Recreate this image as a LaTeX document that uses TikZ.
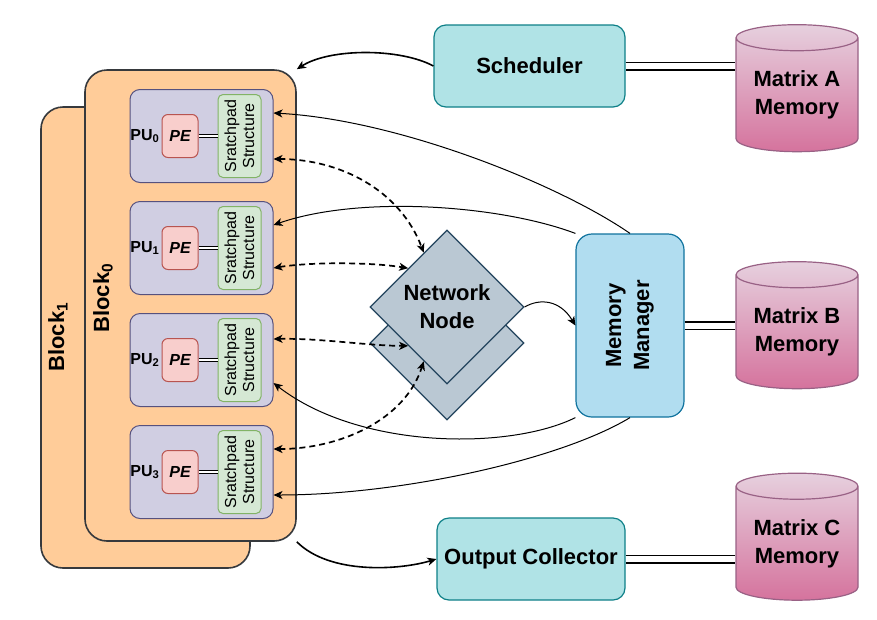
\documentclass[tikz,border=0pt]{standalone}
\usepackage{fontspec}
\setmainfont{Liberation Sans}
\usetikzlibrary{shapes.geometric,arrows.meta,calc}
\definecolor{blockfill}{HTML}{FFCC99}
\definecolor{blockdraw}{HTML}{36393D}
\definecolor{pufill}{HTML}{D0CEE2}
\definecolor{pudraw}{HTML}{56517E}
\definecolor{pefill}{HTML}{F8CECC}
\definecolor{pedraw}{HTML}{B85450}
\definecolor{spfill}{HTML}{D5E8D4}
\definecolor{spdraw}{HTML}{82B366}
\definecolor{schfill}{HTML}{B0E3E6}
\definecolor{schdraw}{HTML}{0E8088}
\definecolor{mmfill}{HTML}{B1DDF0}
\definecolor{mmdraw}{HTML}{10739E}
\definecolor{nnfill}{HTML}{BAC8D3}
\definecolor{nndraw}{HTML}{23445D}
\definecolor{memtop}{HTML}{E6D0DE}
\definecolor{membot}{HTML}{D5739D}
\definecolor{memdraw}{HTML}{996185}
\tikzset{
  bigfont/.style={font=\fontsize{22}{28}\selectfont\bfseries},
  blockbox/.style={draw=blockdraw,fill=blockfill,line width=1.6pt,rounded corners=22pt,inner sep=0pt},
  pubox/.style={draw=pudraw,fill=pufill,line width=1pt,rounded corners=10pt,minimum width=143pt,minimum height=93pt,inner sep=0pt},
  pebox/.style={draw=pedraw,fill=pefill,line width=1pt,rounded corners=6pt,minimum width=36pt,minimum height=43pt,inner sep=0pt,font=\fontsize{16}{18}\selectfont\bfseries\itshape},
  spbox/.style={draw=spdraw,fill=spfill,line width=1pt,rounded corners=5pt,minimum width=83pt,minimum height=43pt,inner sep=0pt,rotate=90,align=center,font=\fontsize{16}{18}\selectfont},
  pulabel/.style={anchor=east,inner sep=0pt,font=\fontsize{16}{18}\selectfont\bfseries},
  unitbox/.style={draw=schdraw,fill=schfill,line width=1.2pt,rounded corners=12pt,inner sep=0pt,bigfont},
  mgrbox/.style={draw=mmdraw,fill=mmfill,line width=1.2pt,rounded corners=16pt,inner sep=0pt,rotate=90,align=center,bigfont,minimum width=183pt,minimum height=108pt},
  netnode/.style={diamond,aspect=1,draw=nndraw,fill=nnfill,line width=1.2pt,inner sep=0pt,minimum width=154pt,minimum height=154pt,align=center,bigfont},
  memdisk/.style={cylinder,shape border rotate=90,aspect=0.3,draw=memdraw,top color=memtop,bottom color=membot,line width=1.2pt,inner sep=0pt,minimum width=122pt,minimum height=127pt,align=center,bigfont},
  dbl/.style={double,double distance=6pt,line width=1.5pt},
  conn/.style={-{Stealth[length=9pt,width=8pt,inset=2.5pt]},line width=1pt},
  flow/.style={conn,line width=1.6pt},
  link/.style={{Stealth[length=9pt,width=8pt,inset=2.5pt]}-{Stealth[length=9pt,width=8pt,inset=2.5pt]},line width=1.7pt,dash pattern=on 6pt off 4pt}
}
\begin{document}
\begin{tikzpicture}[x=1pt,y=-1pt]
\useasboundingbox[fill=white] (0,0) rectangle (877,619);

\node[blockbox,minimum width=209pt,minimum height=461pt] (block1) at (145.5,337.5) {};
\node[blockbox,minimum width=211pt,minimum height=471pt] (block0) at (190.5,305.5) {};
\node[rotate=90,bigfont] (block1lbl) at (58,337) {Block\textsubscript{1}};
\node[rotate=90,bigfont] (block0lbl) at (103,298) {Block\textsubscript{0}};

\foreach \i/\y in {0/136,1/248,2/360,3/472}{
  \node[pubox] (pu\i) at (201.5,\y) {};
  \node[pebox] (pe\i) at (180,\y) {PE};
  \node[spbox] (sp\i) at (239.5,\y) {Sratchpad\\Structure};
  \node[pulabel] (pul\i) at ([xshift=-2pt]pe\i.west) {PU\textsubscript{\i}};
  \draw[double,double distance=2.5pt,line width=1.1pt] (pe\i) -- (sp\i);
}

\node[netnode] (nnback) at (447,343) {};
\node[netnode] (nn) at (447,307) {Network\\Node};

\node[unitbox,minimum width=191pt,minimum height=82pt] (sched) at (529.5,66) {Scheduler};
\node[unitbox,minimum width=188pt,minimum height=82pt] (outc) at (531,559) {Output Collector};
\node[mgrbox] (mm) at (630,325.5) {Memory\\Manager};

\node[memdisk] (matA) at (797,95) {Matrix A\\Memory};
\node[memdisk] (matB) at (797,332) {Matrix B\\Memory};
\node[memdisk] (matC) at (797,543.5) {Matrix C\\Memory};

\draw[dbl] (sched.east) -- (sched.east -| matA.west);
\draw[dbl] (mm.south) -- (mm.south -| matB.west);
\draw[dbl] (outc.east) -- (outc.east -| matC.west);

\draw[flow] (sched.west) .. controls (400,48) and (330,48) .. (block0.north east);
\draw[flow] (block0.south east) .. controls (330,575) and (400,570) .. (outc.west);
\draw[conn] (nn.east) .. controls (540,298) and (560,300) .. (mm.north);

\draw[conn] (mm.east) .. controls (560,185) and (400,120) .. ([yshift=23pt]pu0.east);
\draw[conn] (mm.north east) .. controls (500,205) and (360,195) .. ([yshift=23pt]pu1.east);
\draw[conn] (mm.north west) .. controls (510,450) and (360,450) .. ([yshift=-23pt]pu2.east);
\draw[conn] (mm.west) .. controls (560,460) and (400,495) .. ([yshift=-23pt]pu3.east);

\draw[link] ([yshift=-23pt]pu0.east) .. controls (340,159) and (400,190) .. ($(nn.north)!0.3!(nn.west)$);
\draw[link] ([yshift=-20pt]pu1.east) .. controls (310,262) and (370,262) .. (nn.north west);
\draw[link] ([yshift=21pt]pu2.east) .. controls (320,338) and (370,346) .. (nn.south west);
\draw[link] ([yshift=23pt]pu3.east) .. controls (340,449) and (405,420) .. ($(nn.south)!0.3!(nn.west)$);
\end{tikzpicture}
\end{document}
